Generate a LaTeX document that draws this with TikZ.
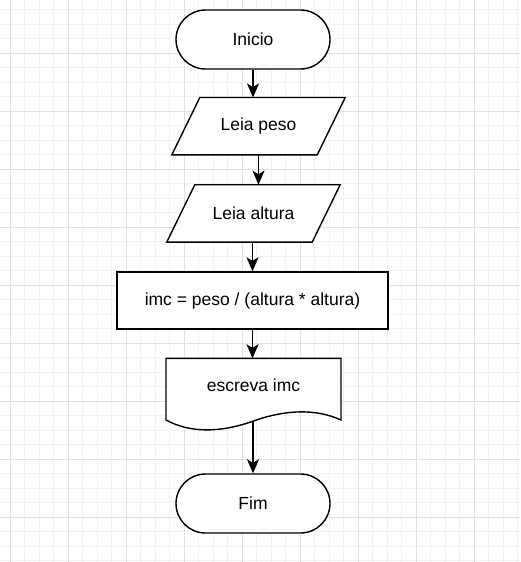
\documentclass[tikz,border=0pt]{standalone}
\usepackage{fontspec}
\setmainfont{Liberation Sans}
\usetikzlibrary{arrows.meta,calc}
\definecolor{minorg}{HTML}{F2F2F2}
\definecolor{majorg}{HTML}{E0E0E0}
\tikzset{
  minorgrid/.style={draw=minorg,line width=0.9pt},
  majorgrid/.style={draw=majorg,line width=0.9pt},
  shapeline/.style={draw=black,line width=1.4pt,fill=white},
  txt/.style={font=\fontsize{17.5}{21}\selectfont,text=black,inner sep=0pt},
  term/.style={txt,shapeline,rectangle,rounded corners=29.5pt,minimum width=154pt,minimum height=59pt},
  procbox/.style={txt,shapeline,rectangle,minimum width=271pt,minimum height=57pt},
  iobox/.style={txt,rectangle,minimum width=173pt,minimum height=57pt},
  arr/.style={-{Stealth[length=14pt,width=12pt,inset=3.5pt]},line width=1.5pt,draw=black}
}
\begin{document}
\begin{tikzpicture}[x=1pt,y=-1pt]
\useasboundingbox (0,0) rectangle (520,562);
\clip (0,0) rectangle (520,562);
\fill[white] (0,0) rectangle (520,562);
% grid
\foreach \k in {0,...,35} { \draw[minorgrid] ({10.3+14.5*\k},0) -- ({10.3+14.5*\k},562); }
\foreach \k in {1,...,39} { \draw[minorgrid] (0,{-4.7+14.5*\k}) -- (520,{-4.7+14.5*\k}); }
\foreach \k in {0,...,8} { \draw[majorgrid] ({10.3+58*\k},0) -- ({10.3+58*\k},562); }
\foreach \k in {1,...,9} { \draw[majorgrid] (0,{-4.7+58*\k}) -- (520,{-4.7+58*\k}); }

% terminators
\node[term] (inicio) at (253,39.5) {Inicio};
\node[term] (fim) at (253,503.5) {Fim};

% parallelograms
\node[iobox] (peso) at (258.5,126.2) {};
\draw[shapeline] ($(peso.north west)+(28,0)$) -- (peso.north east) -- ($(peso.south east)-(28,0)$) -- (peso.south west) -- cycle;
\node[txt] at (peso.center) {Leia peso};

\node[iobox] (altura) at (253.5,213.4) {};
\draw[shapeline] ($(altura.north west)+(28,0)$) -- (altura.north east) -- ($(altura.south east)-(28,0)$) -- (altura.south west) -- cycle;
\node[txt] at (altura.center) {Leia altura};

% process
\node[procbox] (imc) at (252.5,300.5) {imc = peso / (altura * altura)};

% document
\draw[shapeline] (166,358.3) -- (341,358.3) -- (341,420)
  .. controls (317,409) and (287,409) .. (253.5,421)
  .. controls (220,433) and (190,433) .. (166,420) -- cycle;
\node[txt] (doc) at (253.5,385) {escreva imc};
\coordinate (doctop) at (253.5,358.3);
\coordinate (docbot) at (253.5,421);

% connectors
\draw[arr] (inicio.south) -- (inicio.south |- peso.north);
\draw[arr] (peso.south) -- (peso.south |- altura.north);
\draw[arr] (altura.south -| imc.north) -- (imc.north);
\draw[arr] (imc.south) -- (imc.south |- doctop);
\draw[arr] (docbot -| fim.north) -- (fim.north);
\end{tikzpicture}
\end{document}
